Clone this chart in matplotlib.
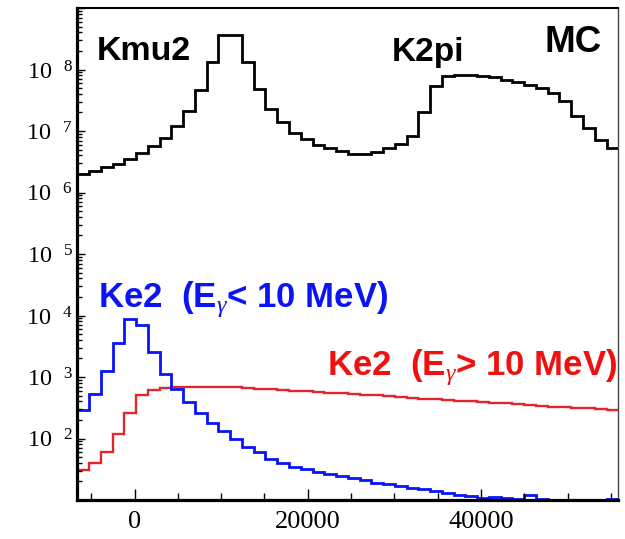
import numpy as np
import matplotlib
matplotlib.use("Agg")
import matplotlib.pyplot as plt
from matplotlib.ticker import MultipleLocator, LogLocator, NullFormatter

# Histogram binning
X_MIN, X_MAX = -6605, 55860
N_BINS = 46

# log10(entries) per bin, black = Kmu2 + K2pi
kmu_k2pi_log = [6.30, 6.35, 6.41, 6.47, 6.54, 6.645, 6.75, 6.89, 7.08, 7.32,
                7.66, 8.12, 8.56, 8.56, 8.12, 7.69, 7.36, 7.14, 6.97, 6.87,
                6.78, 6.72, 6.67, 6.63, 6.63, 6.66, 6.73, 6.79, 6.92, 7.31,
                7.73, 7.89, 7.915, 7.915, 7.90, 7.87, 7.835, 7.80, 7.75, 7.70,
                7.62, 7.48, 7.24, 7.05, 6.86, 6.73]

# Ke2 with soft photon (blue); first entry is the bin just left of the axis
ke2_soft_log = [2.945,
                2.46, 2.73, 3.10, 3.55, 3.945, 3.84, 3.40, 3.05, 2.80, 2.59,
                2.42, 2.26, 2.125, 1.99, 1.86, 1.78, 1.67, 1.60, 1.54, 1.50,
                1.46, 1.43, 1.39, 1.35, 1.32, 1.28, 1.26, 1.23, 1.20, 1.175,
                1.15, 1.11, 1.08, 1.06, 1.035, 1.05, 1.04, 1.02, 1.08, 1.01,
                1.005, 1.005, 1.005, 0, 0, 1.01]

# Ke2 with hard photon (red); first entry is the bin just left of the axis
ke2_hard_log = [2.405,
                1.49, 1.60, 1.78, 2.07, 2.42, 2.70, 2.79, 2.82, 2.83, 2.835,
                2.84, 2.84, 2.835, 2.83, 2.82, 2.81, 2.80, 2.79, 2.78, 2.77,
                2.76, 2.745, 2.735, 2.72, 2.71, 2.70, 2.69, 2.675, 2.665, 2.65,
                2.64, 2.63, 2.615, 2.605, 2.59, 2.58, 2.57, 2.555, 2.545, 2.535,
                2.52, 2.51, 2.50, 2.49, 2.475, 2.465]

y_decades = [1, 2, 3, 4, 5, 6, 7, 8, 9]
x_major = [0, 20000, 40000]

plt.rcParams["mathtext.fontset"] = "custom"
plt.rcParams["mathtext.rm"] = "Liberation Serif"
plt.rcParams["mathtext.it"] = "Liberation Serif:italic"
plt.rcParams["mathtext.bf"] = "Liberation Serif:bold"

edges = np.linspace(X_MIN, X_MAX, N_BINS + 1)
width = edges[1] - edges[0]
edges_uf = np.concatenate([[X_MIN - width], edges])

fig = plt.figure(figsize=(6.25, 5.39), dpi=100)
ax = fig.add_axes([77.3 / 625, 39 / 539, 541 / 625, 492 / 539])

ax.stairs(10 ** np.array(kmu_k2pi_log), edges, baseline=None, color="black", lw=2.0)
ax.stairs(10 ** np.array(ke2_hard_log), edges_uf, baseline=None, color="#e4262b", lw=1.7)
ax.stairs(10 ** np.array(ke2_soft_log), edges_uf, baseline=None, color="#0a14f5", lw=2.0)

ax.set_yscale("log")
ax.set_xlim(X_MIN, X_MAX)
ax.set_ylim(10, 1e9)

# y axis: 10^n labels, ROOT-like inward ticks
ax.set_yticks([10.0 ** d for d in y_decades])
ax.set_yticklabels(["" if d in (1, 9) else r"$10^{\ \ \ %d}$" % d for d in y_decades],
                   fontsize=17.5)
ax.yaxis.set_minor_locator(LogLocator(base=10, subs=np.arange(2, 10), numticks=20))
ax.yaxis.set_minor_formatter(NullFormatter())

ax.set_xticks(x_major)
ax.set_xticklabels([str(v) for v in x_major], fontsize=19, family="Liberation Serif")
ax.xaxis.set_minor_locator(MultipleLocator(5000))

ax.tick_params(which="both", direction="in", width=1.0, top=False, right=False)
ax.tick_params(axis="y", which="major", length=6, pad=3)
ax.tick_params(axis="y", which="minor", length=3.5)
ax.tick_params(axis="x", which="major", length=8, pad=8)
ax.tick_params(axis="x", which="minor", length=5)

ax.spines["left"].set_linewidth(2.3)
ax.spines["bottom"].set_linewidth(2.3)
ax.spines["top"].set_linewidth(1.5)
ax.spines["right"].set_linewidth(1.0)
ax.spines["right"].set_color("#444444")

# annotations
lab = dict(transform=ax.transAxes, family="Liberation Sans", weight="bold",
           va="baseline", ha="left")
ax.text(0.0364, 0.895, "Kmu2", fontsize=24.5, color="black", **lab)
ax.text(0.5817, 0.892, "K2pi", fontsize=24, color="black", **lab)
ax.text(0.8645, 0.9106, "MC", fontsize=26.5, color="black", **lab)
ax.text(0.0383, 0.393, r"Ke2  (E$_{\gamma}$< 10 MeV)", fontsize=25, color="#0a14f5", **lab)
ax.text(0.4615, 0.254, r"Ke2  (E$_{\gamma}$> 10 MeV)", fontsize=25, color="#f01010", **lab)

fig.savefig("out.png", dpi=100)
